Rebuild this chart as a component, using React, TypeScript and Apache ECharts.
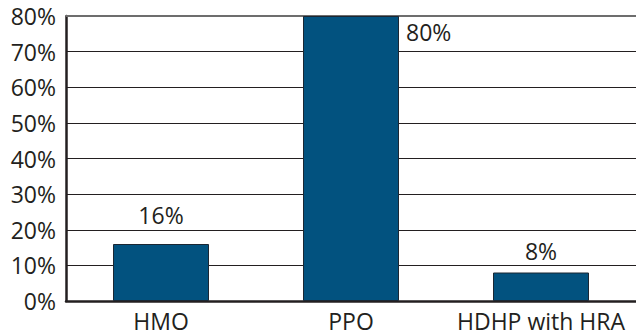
import React, { useEffect, useRef } from "react";
import * as echarts from "echarts";

const categories = ["HMO", "PPO", "HDHP with HRA"];
const shares = [16, 80, 8];
const yTicks = [0, 10, 20, 30, 40, 50, 60, 70, 80];

const FONT = "'Open Sans', 'Noto Sans', sans-serif";
const INK = "#231f20";
const BAR = "#02527f";

export default function App() {
  const ref = useRef<HTMLDivElement>(null);

  useEffect(() => {
    if (!ref.current) return;
    const chart = echarts.init(ref.current, null, { renderer: "svg" });
    const yMax = yTicks[yTicks.length - 1];

    const data = shares.map((v, i) => {
      if (v >= yMax) {
        // tallest bar: label sits beside its top-right corner
        return {
          value: v,
          label: {
            position: [103, 16],
            align: "left",
            verticalAlign: "middle",
          },
        };
      }
      return { value: v, label: { distance: i === 0 ? 18 : 10 } };
    });

    chart.setOption({
      animation: false,
      // plot area runs a few pixels past the right edge of the canvas
      grid: { left: 66, width: 575, top: 16, bottom: 34, containLabel: false },
      xAxis: {
        type: "category",
        data: categories,
        axisLine: { lineStyle: { color: INK, width: 2.5 } },
        axisTick: { inside: true, length: 6, lineStyle: { color: INK, width: 2 } },
        axisLabel: {
          interval: 0,
          hideOverlap: false,
          color: INK,
          fontFamily: FONT,
          fontSize: 23,
          margin: 8,
        },
      },
      yAxis: {
        type: "value",
        min: 0,
        max: yMax,
        interval: 10,
        axisLine: { show: true, lineStyle: { color: INK, width: 2.5 } },
        axisTick: { show: false },
        splitLine: { lineStyle: { color: INK, width: 1.2 } },
        axisLabel: {
          color: INK,
          fontFamily: FONT,
          fontSize: 23,
          margin: 10,
          formatter: (v: number) => `${v}%`,
        },
      },
      series: [
        {
          type: "bar",
          data,
          barWidth: 96,
          itemStyle: { color: BAR, borderColor: "#1b2733", borderWidth: 1 },
          label: {
            show: true,
            position: "top",
            color: INK,
            fontFamily: FONT,
            fontSize: 23,
            formatter: (p: any) => `${p.value}%`,
          },
          markLine: {
            silent: true,
            symbol: "none",
            label: { show: false },
            lineStyle: { color: "#6d6d6d", width: 2, type: "solid" },
            data: [{ yAxis: yMax }],
            z: 1,
          },
        },
      ],
    });

    return () => chart.dispose();
  }, []);

  return (
    <div
      ref={ref}
      style={{ position: "fixed", left: 0, top: 0, width: 636, height: 335, background: "#fff" }}
    />
  );
}
